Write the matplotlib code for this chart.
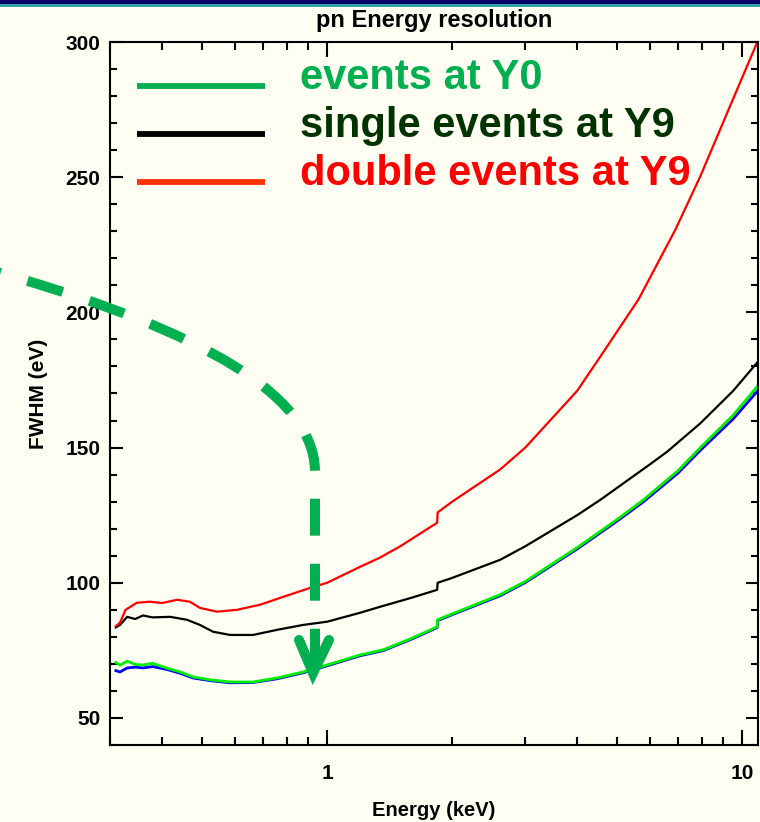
import matplotlib
matplotlib.use("Agg")
import matplotlib.pyplot as plt
from matplotlib.path import Path
from matplotlib.patches import PathPatch, Rectangle
from matplotlib.ticker import MultipleLocator, LogLocator, NullFormatter, FixedLocator, FixedFormatter

plt.rcParams['font.family'] = ['Liberation Sans', 'DejaVu Sans']
plt.rcParams['lines.scale_dashes'] = False

# double events at Y9 (red)
energy_red = [0.31, 0.317, 0.327, 0.348, 0.374, 0.40, 0.435, 0.467, 0.494, 0.543,
              0.607, 0.69, 0.784, 0.91, 1.0, 1.2, 1.34, 1.5, 1.84, 1.845,
              2.0, 2.61, 3.0, 4.0, 4.55, 5.62, 6.9, 7.92, 9.2, 10.86, 11.0]
fwhm_red = [84, 85.2, 90, 92.6, 93, 92.5, 93.7, 93, 90.7, 89.3,
            90, 91.9, 94.8, 98.1, 100, 105.9, 109.3, 113.5, 122.2, 126,
            130, 141.9, 150, 171, 183.7, 204.8, 230.7, 250.4, 274, 300, 303]

# single events at Y9 (black)
energy_black = [0.31, 0.317, 0.33, 0.345, 0.36, 0.38, 0.419, 0.46, 0.494, 0.531,
                0.584, 0.663, 0.758, 0.875, 1.0, 1.2, 1.34, 1.6, 1.84, 1.845,
                2.0, 2.61, 3.0, 4.0, 4.55, 5.0, 6.0, 6.59, 7.92, 9.5, 10.86, 11.0]
fwhm_black = [83.5, 84.4, 87.4, 86.6, 87.9, 87.2, 87.4, 86.3, 84.4, 81.9,
              80.7, 80.7, 82.6, 84.4, 85.6, 88.9, 91.1, 94.5, 97.4, 100,
              101.8, 108.5, 113.5, 125, 130.7, 135.2, 143.9, 148.5, 159, 171, 181.5, 183]

# events at Y0 (green, with the blue curve underneath)
energy_y0 = [0.31, 0.317, 0.33, 0.345, 0.36, 0.38, 0.41, 0.443, 0.475, 0.523,
             0.584, 0.663, 0.758, 0.875, 1.0, 1.2, 1.364, 1.6, 1.84, 1.845,
             2.0, 2.61, 3.0, 4.0, 5.0, 5.78, 7.0, 7.92, 9.5, 10.86, 11.0]
fwhm_green = [70.5, 69.5, 71, 69.8, 69.6, 70.2, 68.5, 67, 65.2, 64.1,
              63.3, 63.3, 64.8, 67, 69.6, 73.3, 75.2, 79.5, 83.7, 86.3,
              88.5, 95.6, 100.5, 113, 123.5, 130.7, 141.5, 150, 162, 172.6, 174]
fwhm_blue = [67.5, 67, 68.5, 68.8, 68.5, 69, 68, 66.5, 64.8, 63.8,
             63, 63.1, 64.5, 66.7, 69.3, 73, 74.9, 79.2, 83.4, 86,
             88.2, 95.2, 100.1, 112.5, 122.9, 130, 140.6, 149, 160.6, 170.8, 172]

legend_labels = ["events at Y0", "single events at Y9", "double events at Y9"]
legend_line_colors = ["#00b050", "#000000", "#ff3300"]
legend_text_colors = ["#00b050", "#003300", "#ff0000"]

W, H = 760, 822
bg = "#fffef2"
fig = plt.figure(figsize=(W / 100, H / 100), dpi=100, facecolor=bg)


def fx(x):
    return x / W


def fy(y):
    return 1 - y / H


# slide header bar
fig.patches.append(Rectangle((0, fy(4)), 1, 4 / H, transform=fig.transFigure,
                             facecolor="#000066", edgecolor="none"))
fig.patches.append(Rectangle((0, fy(7)), 1, 3 / H, transform=fig.transFigure,
                             facecolor="#33a3a8", edgecolor="none"))

ax = fig.add_axes([fx(110), fy(745), 648 / W, 703 / H])
ax.set_facecolor(bg)

ax.plot(energy_y0, fwhm_blue, color="#0000ff", lw=2)
ax.plot(energy_y0, fwhm_green, color="#00ee00", lw=2)
ax.plot(energy_black, fwhm_black, color="#000000", lw=1.6)
ax.plot(energy_red, fwhm_red, color="#ff0000", lw=1.6)

ax.set_xscale("log")
ax.set_xlim(0.3, 10.9)
ax.set_ylim(40, 300)

ax.xaxis.set_major_locator(FixedLocator([1, 10]))
ax.xaxis.set_major_formatter(FixedFormatter(["1", "10"]))
ax.xaxis.set_minor_locator(LogLocator(base=10, subs=range(2, 10)))
ax.xaxis.set_minor_formatter(NullFormatter())
ax.yaxis.set_major_locator(MultipleLocator(50))
ax.yaxis.set_minor_locator(MultipleLocator(10))

ax.tick_params(axis="both", which="both", direction="in", top=True, right=True,
               width=1.5, colors="black")
ax.tick_params(axis="x", which="major", length=11, pad=14, labelsize=15)
ax.tick_params(axis="x", which="minor", length=5.5)
ax.tick_params(axis="y", which="major", length=9, pad=7, labelsize=15)
ax.tick_params(axis="y", which="minor", length=5)
for lab in ax.get_xticklabels() + ax.get_yticklabels():
    lab.set_fontweight("bold")
for sp in ax.spines.values():
    sp.set_linewidth(1.5)

ax.set_title("pn Energy resolution", fontsize=17, fontweight="bold", pad=11)
ax.set_xlabel("Energy (keV)", fontsize=14.5, fontweight="bold")
ax.xaxis.set_label_coords(0.5, -0.079)
ax.set_ylabel("FWHM (eV)", fontsize=15, fontweight="bold")
ax.yaxis.set_label_coords(-0.096, 0.5)

# legend drawn as slide annotations
for i, (lab, lc, tc) in enumerate(zip(legend_labels, legend_line_colors, legend_text_colors)):
    y = 86 + 48 * i
    fig.add_artist(plt.Line2D([fx(137), fx(265)], [fy(y), fy(y)], transform=fig.transFigure,
                              color=lc, lw=4.2, solid_capstyle="butt"))
    fig.text(fx(300), fy(y + 3), lab, color=tc, fontsize=30, fontweight="bold",
             ha="left", va="baseline")

# green dashed arrow
green = "#00b050"
verts = [(fx(-10), fy(270)), (fx(150), fy(315)), (fx(315), fy(380)), (fx(315), fy(472)),
         (fx(315), fy(668))]
codes = [Path.MOVETO, Path.CURVE4, Path.CURVE4, Path.CURVE4, Path.LINETO]
fig.patches.append(PathPatch(Path(verts, codes), transform=fig.transFigure, fill=False,
                             edgecolor=green, lw=7.2, linestyle=(18.7, (26.6, 20.2)),
                             capstyle="butt"))
head = [(fx(299), fy(640)), (fx(313), fy(673)), (fx(329), fy(640))]
fig.patches.append(PathPatch(Path(head, [Path.MOVETO, Path.LINETO, Path.LINETO]),
                             transform=fig.transFigure, fill=False, edgecolor=green,
                             lw=7.2, capstyle="round", joinstyle="miter"))

fig.savefig("out.png", dpi=100, facecolor=bg)
